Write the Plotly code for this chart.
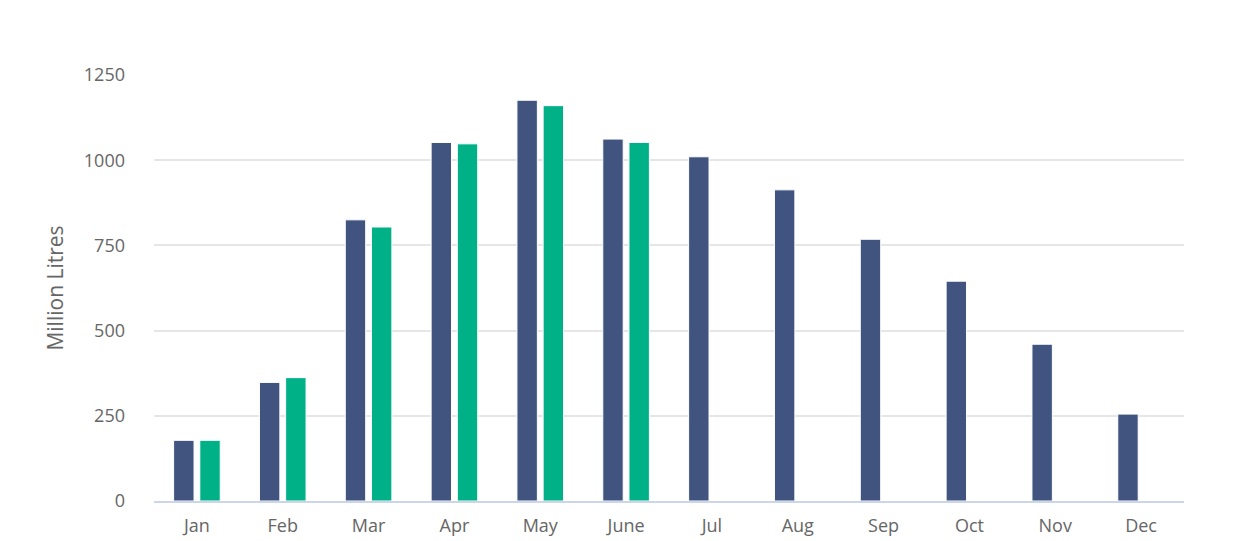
import plotly.graph_objects as go

months = ["Jan", "Feb", "Mar", "Apr", "May", "June", "Jul", "Aug", "Sep", "Oct", "Nov", "Dec"]
series_a = [178, 348, 825, 1052, 1176, 1062, 1010, 913, 768, 645, 460, 255]
series_b = [178, 362, 804, 1048, 1160, 1052, None, None, None, None, None, None]
y_ticks = [0, 250, 500, 750, 1000, 1250]

font = "Open Sans, Lato, sans-serif"

fig = go.Figure()
fig.add_trace(go.Bar(
    x=months, y=series_a, name="Series 1",
    marker=dict(color="#415480", line=dict(color="#ffffff", width=1)),
))
fig.add_trace(go.Bar(
    x=months, y=series_b, name="Series 2",
    marker=dict(color="#00b087", line=dict(color="#ffffff", width=1)),
))

# page body adds an 8px offset, margins account for it
fig.update_layout(
    width=1247, height=541,
    margin=dict(l=146, r=71, t=67, b=48),
    paper_bgcolor="white", plot_bgcolor="white",
    barmode="group", bargap=0.39, bargroupgap=0.22,
    showlegend=False,
    font=dict(family=font, color="#666666", size=18),
)
fig.update_xaxes(
    showgrid=False, showline=True, linecolor="#ccd6eb", linewidth=2,
    ticks="", ticklabelstandoff=7,
    tickfont=dict(size=18, color="#666666"),
)
fig.update_yaxes(
    range=[0, 1250], tickvals=y_ticks, ticktext=[str(v) for v in y_ticks],
    showgrid=True, gridcolor="#e6e6e6", gridwidth=2,
    zeroline=False, showline=False, ticks="", ticklabelstandoff=28,
    tickfont=dict(size=18, color="#666666"),
    title=dict(text="Million Litres", font=dict(size=21, color="#666666"), standoff=14),
)

fig.write_html("out.html")
